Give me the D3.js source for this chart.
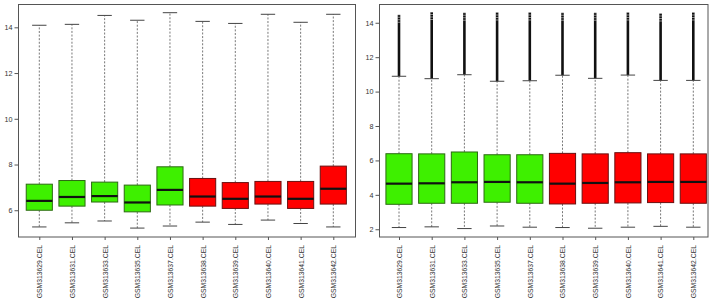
<!DOCTYPE html>
<html>
<head>
<meta charset="utf-8">
<script src="https://cdn.jsdelivr.net/npm/d3@7"></script>
<style>
html,body{margin:0;padding:0;background:#fff;}
svg{display:block;}
text{font-family:"Liberation Sans",Arial,sans-serif;fill:#333;}
</style>
</head>
<body>
<svg id="chart" width="716" height="301"></svg>
<script>
const samples = ["GSM313629.CEL","GSM313631.CEL","GSM313633.CEL","GSM313635.CEL","GSM313637.CEL",
                 "GSM313638.CEL","GSM313639.CEL","GSM313640.CEL","GSM313641.CEL","GSM313642.CEL"];
const groups = ["g1","g1","g1","g1","g1","g2","g2","g2","g2","g2"];

// Left panel (before normalization)
const leftLowWhisker = [5.27,5.45,5.53,5.22,5.31,5.48,5.38,5.57,5.42,5.27];
const leftQ1         = [6.00,6.18,6.36,5.93,6.23,6.18,6.08,6.27,6.08,6.27];
const leftMedian     = [6.41,6.58,6.62,6.34,6.89,6.60,6.50,6.60,6.50,6.94];
const leftQ3         = [7.14,7.30,7.23,7.10,7.90,7.39,7.21,7.26,7.26,7.93];
const leftHighWhisker= [14.09,14.13,14.52,14.31,14.64,14.26,14.17,14.57,14.22,14.57];
const leftTicks = [6,8,10,12,14];

// Right panel (after normalization)
const rightLowWhisker = [2.10,2.14,2.04,2.19,2.12,2.10,2.06,2.12,2.17,2.12];
const rightQ1         = [3.45,3.51,3.51,3.57,3.51,3.47,3.51,3.53,3.55,3.51];
const rightMedian     = [4.65,4.67,4.73,4.75,4.73,4.65,4.69,4.73,4.75,4.75];
const rightQ3         = [6.39,6.38,6.49,6.33,6.33,6.41,6.38,6.45,6.38,6.38];
const rightHighWhisker= [10.89,10.75,10.98,10.60,10.63,10.95,10.77,10.96,10.65,10.65];
const rightOutlierMax = [14.46,14.62,14.58,14.60,14.60,14.58,14.58,14.60,14.54,14.60];
const rightTicks = [2,4,6,8,10,12,14];

const colors = {g1:"#3ef000", g2:"#ff0000"};

const svg = d3.select("#chart");

function panel(cfg){
  const g = svg.append("g");
  const x = d3.scaleLinear().domain([1,10]).range(cfg.xr);
  const y = d3.scaleLinear().domain(cfg.yd).range([237,4]);
  const hw = (x(2)-x(1))*0.4;
  const cap = hw*0.55;
  const data = samples.map((s,i)=>({s, i:i+1, grp:groups[i],
    lo:cfg.lo[i], q1:cfg.q1[i], med:cfg.med[i], q3:cfg.q3[i], hi:cfg.hi[i],
    om: cfg.om ? cfg.om[i] : null}));

  // outliers (dense points drawn as heavy line)
  if (cfg.om){
    const oc = g.selectAll(".out").data(data).enter();
    oc.append("line")
      .attr("x1",d=>x(d.i)).attr("x2",d=>x(d.i))
      .attr("y1",d=>y(d.hi)).attr("y2",d=>y(d.om))
      .attr("stroke","#111").attr("stroke-width",2.6);
    oc.append("line")
      .attr("x1",d=>x(d.i)).attr("x2",d=>x(d.i))
      .attr("y1",d=>y(d.om)+8).attr("y2",d=>y(d.om))
      .attr("stroke","#fff").attr("stroke-width",3).attr("stroke-dasharray","1,1.5").attr("opacity",0.5);
  }
  const b = g.selectAll(".box").data(data).enter().append("g");
  // whiskers
  b.append("line").attr("x1",d=>x(d.i)).attr("x2",d=>x(d.i))
    .attr("y1",d=>y(d.q3)).attr("y2",d=>y(d.hi))
    .attr("stroke","#555").attr("stroke-width",0.8).attr("stroke-dasharray","2,1.6");
  b.append("line").attr("x1",d=>x(d.i)).attr("x2",d=>x(d.i))
    .attr("y1",d=>y(d.q1)).attr("y2",d=>y(d.lo))
    .attr("stroke","#555").attr("stroke-width",0.8).attr("stroke-dasharray","2,1.6");
  // caps
  b.append("line").attr("x1",d=>x(d.i)-cap).attr("x2",d=>x(d.i)+cap)
    .attr("y1",d=>y(d.hi)).attr("y2",d=>y(d.hi)).attr("stroke","#444").attr("stroke-width",1);
  b.append("line").attr("x1",d=>x(d.i)-cap).attr("x2",d=>x(d.i)+cap)
    .attr("y1",d=>y(d.lo)).attr("y2",d=>y(d.lo)).attr("stroke","#444").attr("stroke-width",1);
  // box
  b.append("rect").attr("x",d=>x(d.i)-hw).attr("width",hw*2)
    .attr("y",d=>y(d.q3)).attr("height",d=>y(d.q1)-y(d.q3))
    .attr("fill",d=>colors[d.grp]).attr("stroke",d=>d.grp==="g1"?"#2c6a12":"#6a1010").attr("stroke-width",1);
  // median
  b.append("line").attr("x1",d=>x(d.i)-hw).attr("x2",d=>x(d.i)+hw)
    .attr("y1",d=>y(d.med)).attr("y2",d=>y(d.med))
    .attr("stroke","#111").attr("stroke-width",2.2);

  // frame
  g.append("rect").attr("x",cfg.fx[0]).attr("y",4.5).attr("width",cfg.fx[1]-cfg.fx[0]).attr("height",232.5)
    .attr("fill","none").attr("stroke","#555").attr("stroke-width",1);

  // y axis
  const ya = g.append("g").attr("transform",`translate(${cfg.fx[0]},0)`)
    .call(d3.axisLeft(y).tickValues(cfg.ticks).tickSize(4).tickPadding(2).tickFormat(d3.format("d")));
  ya.select(".domain").remove();
  ya.selectAll("line").attr("stroke","#555");
  ya.selectAll("text").style("font-size","7.2px").attr("fill","#333");

  // x axis
  const xa = g.append("g").attr("transform","translate(0,237)")
    .call(d3.axisBottom(x).tickValues(data.map(d=>d.i)).tickSize(3).tickFormat(v=>samples[v-1]));
  xa.select(".domain").remove();
  xa.selectAll("line").attr("stroke","#555");
  xa.selectAll("text").style("font-size","6.8px").attr("fill","#333")
    .attr("text-anchor","end").attr("transform","rotate(-90)")
    .attr("x",-8).attr("y",0).attr("dy","0.35em");
}

panel({xr:[39.3,333.3], fx:[18.5,355.5], yd:[4.83,15.02],
  lo:leftLowWhisker,q1:leftQ1,med:leftMedian,q3:leftQ3,hi:leftHighWhisker,ticks:leftTicks});
panel({xr:[399.0,693.3], fx:[379.5,708], yd:[1.55,15.09],
  lo:rightLowWhisker,q1:rightQ1,med:rightMedian,q3:rightQ3,hi:rightHighWhisker,om:rightOutlierMax,ticks:rightTicks});
</script>
</body>
</html>
